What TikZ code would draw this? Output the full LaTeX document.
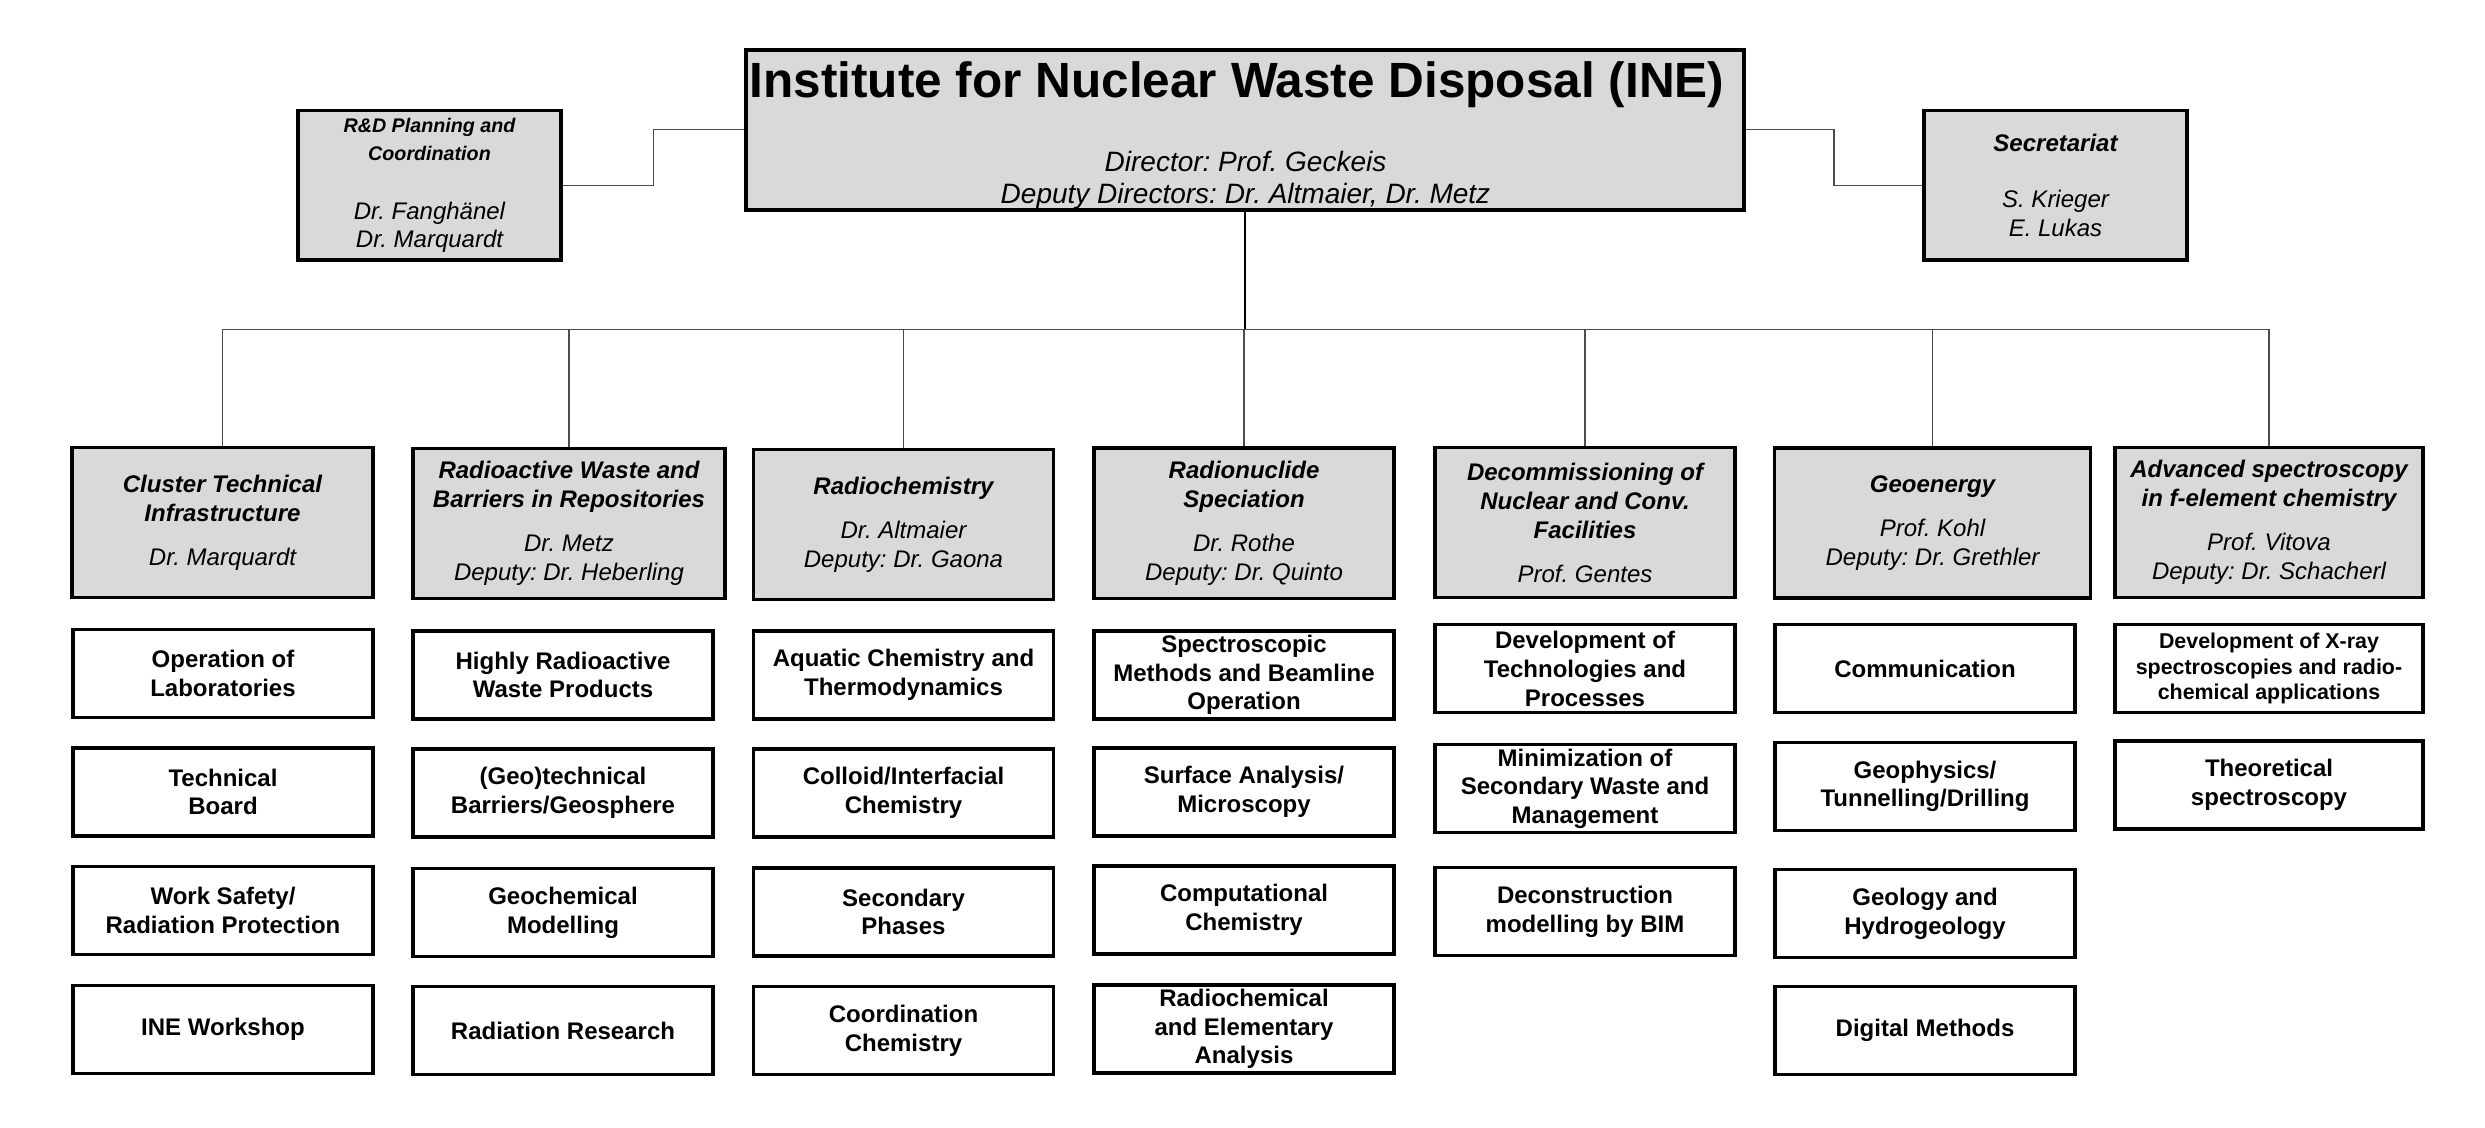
\documentclass[tikz,border=0pt]{standalone}
\usepackage{fontspec}
\setmainfont{Liberation Sans}
\frenchspacing
\begin{document}
\begin{tikzpicture}[x=0.5pt,y=-0.5pt,
    head/.style={rectangle,draw,line width=1.8pt,fill=black!15,align=center,inner sep=0pt,minimum width=150pt,minimum height=75pt,font=\fontsize{12}{14.5}\selectfont\itshape},
    unit/.style={rectangle,draw,line width=1.6pt,align=center,inner sep=0pt,minimum width=150pt,minimum height=44pt,font=\fontsize{12}{14.35}\selectfont\bfseries},
    link/.style={draw=black!70,line width=0.6pt}]
  \useasboundingbox (0,0) rectangle (2485,1128);
  \node (INE) at (1245,129.7) [rectangle,draw,line width=1.9pt,fill=black!15,minimum width=499pt,minimum height=80pt] {};
  \node (INEt) at (1237,97.7) [anchor=base,font=\fontsize{24.75}{30}\selectfont\bfseries] {Institute for Nuclear Waste Disposal (INE)};
  \node (INEd) at (1245.5,180) [align=center,font=\fontsize{14}{16}\selectfont\itshape] {Director: Prof. Geckeis\\Deputy Directors: Dr. Altmaier, Dr. Metz};
  \node (RD) at (429.5,185.5) [head,minimum width=131.5pt,minimum height=74.8pt,font=\fontsize{12}{14}\selectfont\itshape] {{\fontsize{9.85}{14}\selectfont\bfseries R\&D Planning and}\\{\fontsize{9.85}{14}\selectfont\bfseries Coordination}\\[15.5pt]Dr. Fanghänel\\Dr. Marquardt};
  \node (SEC) at (2055.5,185.5) [head,minimum width=131.5pt,minimum height=74.8pt] {\textbf{Secretariat}\\[13.8pt]S. Krieger\\E. Lukas};
  \draw [link] (RD.east) -- ++(91,0) |- (INE.west);
  \draw [link] (INE.east) -- ++(88,0) |- (SEC.west);
  \node (H1) at (222.5,522.5) [head,minimum width=150.5pt] {\textbf{Cluster Technical}\\\textbf{Infrastructure}\\[7.5pt]Dr. Marquardt};
  \node (H2) at (569,523.5) [head,minimum width=156pt] {\textbf{Radioactive Waste and}\\\textbf{Barriers in Repositories}\\[7.5pt]Dr. Metz\\Deputy: Dr. Heberling};
  \node (H3) at (903.5,524.5) [head] {\textbf{Radiochemistry}\\[7.5pt]Dr. Altmaier\\Deputy: Dr. Gaona};
  \node (H4) at (1244,523.3) [head] {\textbf{Radionuclide}\\\textbf{Speciation}\\[7.5pt]Dr. Rothe\\Deputy: Dr. Quinto};
  \node (H5) at (1585,522.5) [head] {\textbf{Decommissioning of}\\\textbf{Nuclear and Conv.}\\\textbf{Facilities}\\[7.5pt]Prof. Gentes};
  \node (H6) at (1932.5,523) [head,minimum width=158pt] {\textbf{Geoenergy}\\[7.5pt]Prof. Kohl\\Deputy: Dr. Grethler};
  \node (H7) at (2269,522.5) [head,minimum width=154pt] {\textbf{Advanced spectroscopy}\\\textbf{in f-element chemistry}\\[7.5pt]Prof. Vitova\\Deputy: Dr. Schacherl};
  \coordinate (BUS) at (0,329.3);
  \draw [line width=1pt] (INE.south) -- (INE.south |- BUS);
  \draw [link] (H1.north) -- (H1.north |- BUS) -- (H7.north |- BUS) -- (H7.north);
  \draw [link] (H2.north) -- (H2.north |- BUS);
  \draw [link] (H3.north) -- (H3.north |- BUS);
  \draw [link] (H4.north) -- (H4.north |- BUS);
  \draw [link] (H5.north) -- (H5.north |- BUS);
  \draw [link] (H6.north) -- (H6.north |- BUS);
  \node (H1a) at (223,673.5) [unit] {Operation of\\Laboratories};
  \node (H1b) at (223,792) [unit] {Technical\\Board};
  \node (H1c) at (223,910.7) [unit] {Work Safety/\\Radiation Protection};
  \node (H1d) at (223,1029.3) [unit] {INE Workshop};
  \node (H2a) at (563,675) [unit] {Highly Radioactive\\Waste Products};
  \node (H2b) at (563,793) [unit] {(Geo)technical\\Barriers/Geosphere};
  \node (H2c) at (563,912.8) [unit] {Geochemical\\Modelling};
  \node (H2d) at (563,1030.8) [unit] {Radiation Research};
  \node (H3a) at (903.5,675) [unit] {Aquatic Chemistry and\\Thermodynamics};
  \node (H3b) at (903.5,793) [unit] {Colloid/Interfacial\\Chemistry};
  \node (H3c) at (903.5,912) [unit] {Secondary\\Phases};
  \node (H3d) at (903.5,1030.5) [unit] {Coordination\\Chemistry};
  \node (H4a) at (1244,675) [unit] {Spectroscopic\\Methods and Beamline\\Operation};
  \node (H4b) at (1244,792) [unit] {Surface Analysis/\\Microscopy};
  \node (H4c) at (1244,910) [unit] {Computational\\Chemistry};
  \node (H4d) at (1244,1029) [unit] {Radiochemical\\and Elementary\\Analysis};
  \node (H5a) at (1585,668.8) [unit] {Development of\\Technologies and\\Processes};
  \node (H5b) at (1585,788.7) [unit] {Minimization of\\Secondary Waste and\\Management};
  \node (H5c) at (1585,911.8) [unit] {Deconstruction\\modelling by BIM};
  \node (H6a) at (1925,668.5) [unit] {Communication};
  \node (H6b) at (1925,786.3) [unit] {Geophysics/\\Tunnelling/Drilling};
  \node (H6c) at (1925,913.5) [unit] {Geology and\\Hydrogeology};
  \node (H6d) at (1925,1030.8) [unit] {Digital Methods};
  \node (H7a) at (2269,668.5) [unit,minimum width=154pt,font=\fontsize{10.7}{12.8}\selectfont\bfseries] {Development of X-ray\\spectroscopies and radio-\\chemical applications};
  \node (H7b) at (2269,785) [unit,minimum width=154pt] {Theoretical\\spectroscopy};
\end{tikzpicture}
\end{document}
